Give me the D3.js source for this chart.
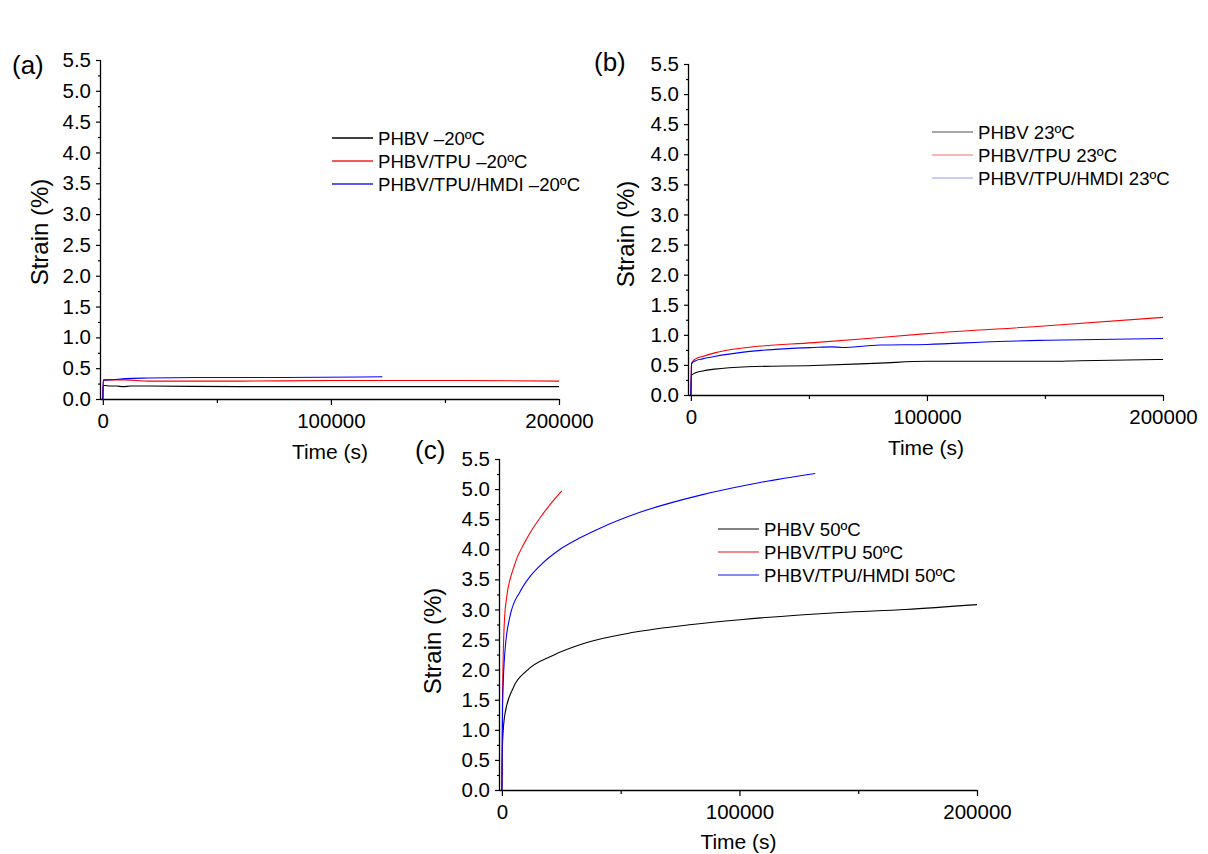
<!DOCTYPE html>
<html>
<head>
<meta charset="utf-8">
<script src="https://cdn.jsdelivr.net/npm/d3@7"></script>
<style>
	body { margin: 0; background: #fff; }
	svg text { font-family: "Liberation Sans", Arial, sans-serif; fill: #000; }
</style>
</head>
<body>
<svg id="svg"></svg>
<script>

const width = 1208;
const height = 854;

// tick labels
const yTicks = [0, 0.5, 1, 1.5, 2, 2.5, 3, 3.5, 4, 4.5, 5, 5.5];
const xTicks = [0, 100000, 200000];
const xMinor = [50000, 150000];

// (a) -20ºC
const aNames = ["PHBV –20ºC", "PHBV/TPU –20ºC", "PHBV/TPU/HMDI –20ºC"];
const aPhbvT = [0, 200, 1000, 3000, 6000, 9000, 12000, 20000, 60000, 100000, 150000, 200000];
const aPhbvS = [0, 0.22, 0.22, 0.21, 0.21, 0.2, 0.21, 0.21, 0.2, 0.2, 0.2, 0.2];
const aTpuT = [0, 200, 2000, 10000, 20000, 60000, 100000, 150000, 200000];
const aTpuS = [0, 0.3, 0.31, 0.31, 0.29, 0.29, 0.3, 0.3, 0.29];
const aHmdiT = [0, 200, 2000, 10000, 20000, 40000, 80000, 122500];
const aHmdiS = [0, 0.31, 0.31, 0.33, 0.34, 0.35, 0.35, 0.36];

// (b) 23ºC
const bNames = ["PHBV 23ºC", "PHBV/TPU 23ºC", "PHBV/TPU/HMDI 23ºC"];
const bPhbvT = [0, 300, 2000, 5000, 10000, 24000, 52000, 80000, 100000, 151000, 165000, 200000];
const bPhbvS = [0, 0.33, 0.37, 0.4, 0.43, 0.47, 0.49, 0.53, 0.56, 0.56, 0.57, 0.59];
const bTpuT = [0, 300, 2000, 5000, 10000, 24000, 52000, 75000, 100000, 151000, 200000];
const bTpuS = [0, 0.53, 0.6, 0.64, 0.7, 0.79, 0.87, 0.94, 1.02, 1.15, 1.29];
const bHmdiT = [0, 300, 2000, 5000, 10000, 24000, 52000, 60000, 64000, 80000, 100000, 130000, 151000, 200000];
const bHmdiS = [0, 0.52, 0.57, 0.6, 0.64, 0.72, 0.79, 0.8, 0.79, 0.83, 0.84, 0.89, 0.91, 0.94];

// (c) 50ºC
const cNames = ["PHBV 50ºC", "PHBV/TPU 50ºC", "PHBV/TPU/HMDI 50ºC"];
const cPhbvT = [0, 300, 1270, 4800, 10400, 21700, 35800, 55500, 80000, 100300, 142500, 170000, 200000];
const cPhbvS = [0, 0.82, 1.26, 1.7, 1.98, 2.24, 2.45, 2.62, 2.75, 2.83, 2.95, 3.0, 3.08];
const cTpuT = [0, 200, 600, 1200, 2000, 4800, 10400, 17500, 25200];
const cTpuS = [0, 1.3, 2.3, 2.9, 3.2, 3.68, 4.17, 4.6, 4.97];
const cHmdiT = [0, 300, 1270, 3500, 7700, 11900, 16100, 24500, 32900, 41300, 57800, 83600, 108700, 131900];
const cHmdiS = [0, 1.43, 2.3, 2.9, 3.3, 3.55, 3.73, 4.0, 4.19, 4.35, 4.61, 4.9, 5.11, 5.26];

const lineColors = ["#000000", "#ff0000", "#0000ff"];

function zip(t, s) {
	return t.map((d, i) => [d, s[i]]);
}

const panels = [
	{
		tag: "(a)", tagX: 12, tagY: 74,
		left: 101, right: 559, top: 60, bottom: 399,
		yTitleX: 48, yTitleY: 232, xTitleY: 459,
		names: aNames,
		series: [zip(aPhbvT, aPhbvS), zip(aTpuT, aTpuS), zip(aHmdiT, aHmdiS)],
		legX: 332, legY: 138, legColors: ["#000000", "#ee2222", "#2222ee"]
	},
	{
		tag: "(b)", tagX: 594, tagY: 71,
		left: 689, right: 1163, top: 64, bottom: 395,
		yTitleX: 634, yTitleY: 234, xTitleY: 455,
		names: bNames,
		series: [zip(bPhbvT, bPhbvS), zip(bTpuT, bTpuS), zip(bHmdiT, bHmdiS)],
		legX: 932, legY: 132, legColors: ["#8a8a8a", "#f4a0a0", "#b4bcf0"]
	},
	{
		tag: "(c)", tagX: 415, tagY: 459,
		left: 500, right: 977, top: 459, bottom: 790,
		yTitleX: 441, yTitleY: 641, xTitleY: 849,
		names: cNames,
		series: [zip(cPhbvT, cPhbvS), zip(cTpuT, cTpuS), zip(cHmdiT, cHmdiS)],
		legX: 718, legY: 529, legColors: ["#5a5a5a", "#f26060", "#6060f2"]
	}
];

const svg = d3.select("#svg")
			.attr("width", width)
			.attr("height", height)
			.attr("viewBox", `0 0 ${width} ${height}`);

function drawPanel(p) {
	const x = d3.scaleLinear().domain([-800, 200000]).range([p.left, p.right]);
	const y = d3.scaleLinear().domain([0, 5.5]).range([p.bottom, p.top]);

	const g = svg.append("g");

	// data lines
	const line = d3.line()
				.x(d => x(d[0]))
				.y(d => y(d[1]))
				.curve(d3.curveMonotoneX);

	g.selectAll("path.curve")
		.data(p.series)
		.enter().append("path")
		.attr("class", "curve")
		.attr("d", line)
		.style("fill", "none")
		.style("stroke", (d, i) => lineColors[i])
		.style("stroke-width", 1.1);

	// y axis, major + minor
	const yAxis = g.append("g")
				.attr("transform", `translate(${p.left},0)`)
				.call(d3.axisLeft(y).tickValues(yTicks).tickFormat(d3.format(".1f")).tickSize(5).tickPadding(5));
	g.append("g")
		.attr("transform", `translate(${p.left},0)`)
		.call(d3.axisLeft(y).tickValues(yTicks.slice(0, -1).map(d => d + 0.25)).tickFormat("").tickSize(3))
		.select(".domain").remove();

	// x axis, major + minor
	const xAxis = g.append("g")
				.attr("transform", `translate(0,${p.bottom})`)
				.call(d3.axisBottom(x).tickValues(xTicks).tickFormat(d3.format("d")).tickSize(6).tickPadding(8));
	g.append("g")
		.attr("transform", `translate(0,${p.bottom})`)
		.call(d3.axisBottom(x).tickValues(xMinor).tickFormat("").tickSize(4))
		.select(".domain").remove();

	g.selectAll(".domain").attr("stroke-width", 1.3);
	g.selectAll(".tick line").attr("stroke-width", 1.2);
	g.selectAll(".tick text").style("font-size", "20.5px");
	yAxis.select(".domain").attr("d", `M-0.5,${p.bottom}V${p.top}`);
	xAxis.select(".domain").attr("d", `M${p.left},0.5H${p.right}`);

	// titles
	g.append("text")
		.attr("x", (p.left + p.right) / 2)
		.attr("y", p.xTitleY)
		.attr("text-anchor", "middle")
		.style("font-size", "21px")
		.text("Time (s)");

	g.append("text")
		.attr("transform", `translate(${p.yTitleX},${p.yTitleY}) rotate(-90)`)
		.attr("text-anchor", "middle")
		.style("font-size", "24px")
		.text("Strain (%)");

	g.append("text")
		.attr("x", p.tagX)
		.attr("y", p.tagY)
		.style("font-size", "26px")
		.text(p.tag);

	// legend
	const leg = g.selectAll("g.leg")
				.data(p.names)
				.enter().append("g")
				.attr("class", "leg")
				.attr("transform", (d, i) => `translate(${p.legX},${p.legY + i * 23})`);
	leg.append("line")
		.attr("x1", 0).attr("x2", 41)
		.style("stroke", (d, i) => p.legColors[i])
		.style("stroke-width", 1.3);
	leg.append("text")
		.attr("x", 46)
		.attr("y", 6.5)
		.style("font-size", "18.6px")
		.text(d => d);
}

panels.forEach(drawPanel);
</script>
</body>
</html>
